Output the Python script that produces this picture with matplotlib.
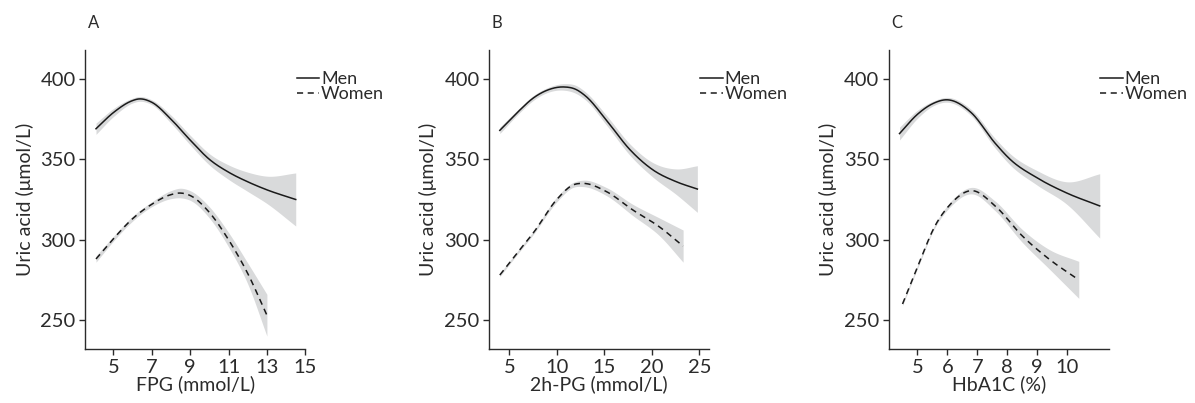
import numpy as np
import matplotlib
matplotlib.use("Agg")
import matplotlib.pyplot as plt

plt.rcParams['font.family'] = ['Lato', 'DejaVu Sans']

# Panel A: FPG
a_men_x = [4.1, 5.0, 6.0, 6.3, 7.0, 8.0, 9.0, 10.0, 11.0, 12.0, 13.0, 14.5]
a_men_y = [369, 379, 386.5, 387.5, 385.5, 375, 362, 350, 342, 336, 331, 325]
a_men_ci = [3.5, 2.5, 1.5, 1.5, 1.5, 2.5, 3, 3.5, 4.5, 6, 8.5, 16.5]
a_wom_x = [4.1, 5.0, 6.0, 7.0, 8.0, 8.5, 9.0, 10.0, 11.0, 12.0, 13.0]
a_wom_y = [288, 300.5, 313, 322, 328, 329, 327.5, 317, 300, 279, 253]
a_wom_ci = [2, 1.5, 1.5, 1.5, 2.5, 3, 3, 3.5, 4.5, 6.5, 13]

# Panel B: 2h-PG
b_men_x = [4.0, 6.0, 7.5, 9.0, 10.7, 12.0, 13.1, 15.2, 17.7, 20.1, 22.6, 24.8]
b_men_y = [368, 380, 388, 393, 395, 393.5, 389, 374.5, 356, 343.5, 336, 331.5]
b_men_ci = [2, 1.5, 1.5, 1.5, 2, 2.5, 2.5, 3, 3.5, 4.5, 8, 14.5]
b_wom_x = [4.0, 6.0, 7.5, 10.0, 11.7, 12.8, 15.2, 18.0, 20.8, 23.3]
b_wom_y = [278, 293, 304, 325, 334, 335, 330, 318.5, 308, 296]
b_wom_ci = [1, 1, 1, 1.5, 1.5, 2, 2.5, 3.5, 5.5, 10]

# Panel C: HbA1C
c_men_x = [4.4, 5.0, 5.5, 6.0, 6.8, 7.6, 8.1, 9.0, 10.0, 11.1]
c_men_y = [366, 378, 384.5, 387, 379, 360, 350, 338.5, 329, 321]
c_men_ci = [4, 2.5, 1.5, 1.5, 2, 3, 3.5, 4.5, 7, 20]
c_wom_x = [4.5, 5.0, 5.6, 6.1, 6.8, 7.6, 8.5, 9.4, 10.4]
c_wom_y = [260, 283, 309, 322, 330.5, 321, 302.5, 288, 275]
c_wom_ci = [1, 1, 1, 1.5, 2, 3, 4, 6, 11.5]

panels = [
    ("A", "FPG (mmol/L)", [5, 7, 9, 11, 13, 15], (3.55, 15.0),
     (a_men_x, a_men_y, a_men_ci), (a_wom_x, a_wom_y, a_wom_ci), 0.0715),
    ("B", "2h-PG (mmol/L)", [5, 10, 15, 20, 25], (2.9, 26.05),
     (b_men_x, b_men_y, b_men_ci), (b_wom_x, b_wom_y, b_wom_ci), 0.4095),
    ("C", "HbA1C (%)", [5, 6, 7, 8, 9, 10], (4.05, 11.41),
     (c_men_x, c_men_y, c_men_ci), (c_wom_x, c_wom_y, c_wom_ci), 0.744),
]

def smooth(x, y, n=200):
    # cubic hermite through the read points
    x = np.asarray(x, float); y = np.asarray(y, float)
    xs = np.linspace(x[0], x[-1], n)
    m = np.gradient(y, x)
    ys = np.empty_like(xs)
    for j, xv in enumerate(xs):
        i = min(np.searchsorted(x, xv, side='right') - 1, len(x) - 2)
        h = x[i + 1] - x[i]
        t = (xv - x[i]) / h
        h00 = 2*t**3 - 3*t**2 + 1
        h10 = t**3 - 2*t**2 + t
        h01 = -2*t**3 + 3*t**2
        h11 = t**3 - t**2
        ys[j] = h00*y[i] + h10*h*m[i] + h01*y[i+1] + h11*h*m[i+1]
    return xs, ys

fig = plt.figure(figsize=(11.95, 4.03), dpi=100)
dark = '#2b2b2b'
for label, xlabel, xticks, xlim, men, wom, left in panels:
    ax = fig.add_axes([left, 0.134, 0.184, 0.742])
    for (x, y, ci), ls in [(men, '-'), (wom, (0, (4, 3)))]:
        xs, ys = smooth(x, y)
        _, cs = smooth(x, ci)
        ax.fill_between(xs, ys - cs, ys + cs, color='#d9dadb', lw=0)
        ax.plot(xs, ys, color='#1a1a1a', lw=1.1, linestyle=ls)
    ax.set_xlim(*xlim)
    ax.set_ylim(232, 418)
    ax.set_xticks(xticks)
    ax.set_yticks([250, 300, 350, 400])
    for s in ['top', 'right']:
        ax.spines[s].set_visible(False)
    for s in ['left', 'bottom']:
        ax.spines[s].set_color(dark)
        ax.spines[s].set_linewidth(1.0)
    ax.tick_params(colors=dark, labelsize=14.5, length=4, width=1.0, pad=3)
    ax.set_xlabel(xlabel, fontsize=14, color=dark, labelpad=0)
    ax.set_ylabel('Uric acid (μmol/L)', fontsize=14, color=dark, labelpad=5)
    ax.text(0.01, 1.065, label, transform=ax.transAxes, fontsize=12, color=dark, va='bottom')
    h1, = ax.plot([], [], color='#1a1a1a', lw=1.1, linestyle='-')
    h2, = ax.plot([], [], color='#1a1a1a', lw=1.1, linestyle=(0, (4, 3)))
    ax.legend([h1, h2], ['Men', 'Women'], loc='upper left', bbox_to_anchor=(0.96, 0.93),
              frameon=False, fontsize=13, handlelength=1.25, handletextpad=0.1,
              labelspacing=-0.05, borderaxespad=0, borderpad=0, labelcolor=dark)

fig.savefig('out.png', dpi=100)
